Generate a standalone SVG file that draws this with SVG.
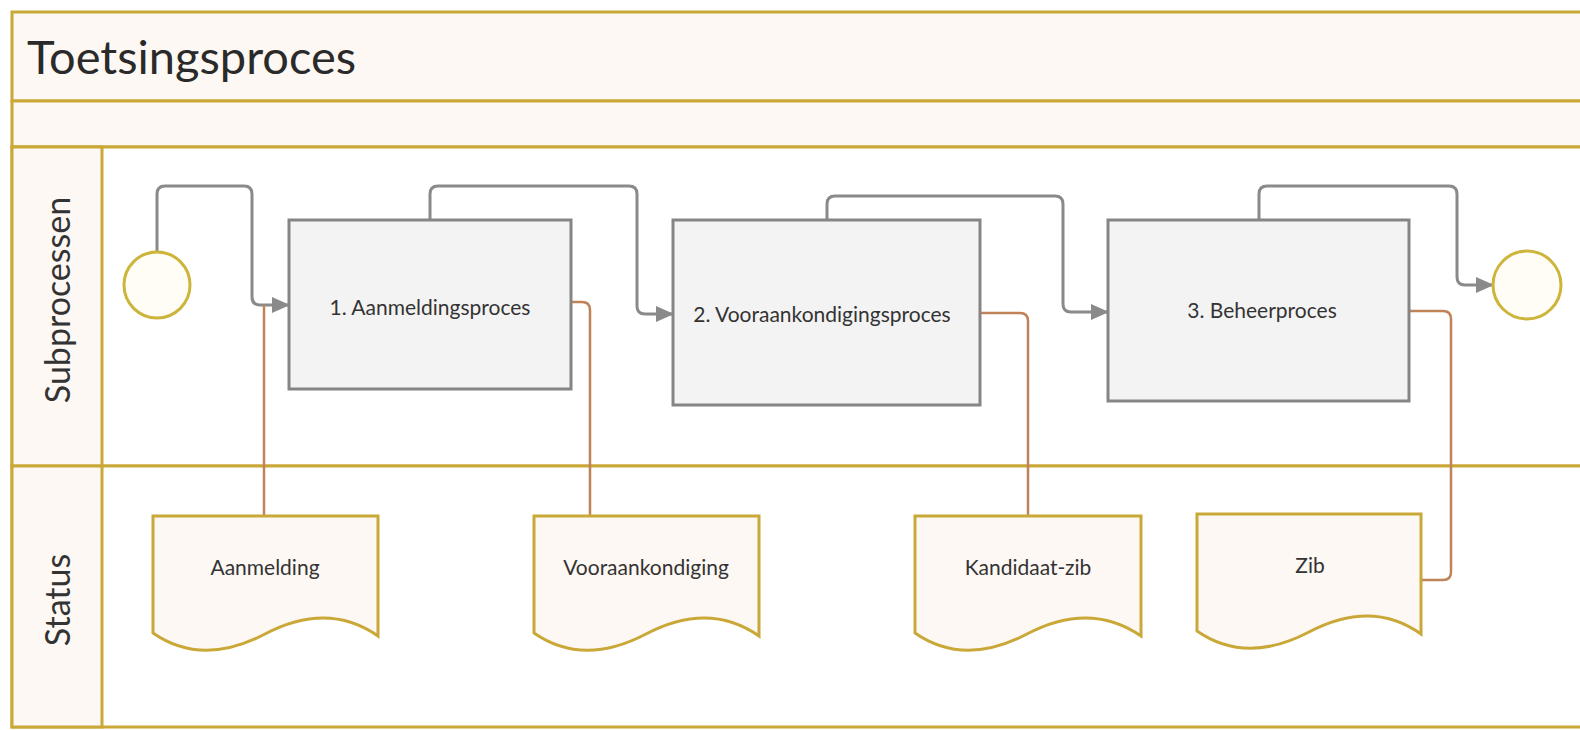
<svg xmlns="http://www.w3.org/2000/svg" width="1580" height="730" viewBox="0 0 1580 730">
<defs>
<style>
.frame{fill:none;stroke:#c9a52e;stroke-width:3}
.band{fill:#fdf8f3;stroke:#c9a838;stroke-width:3}
.lane{fill:#ffffff;stroke:#c9a838;stroke-width:3}
.hdr{fill:#fdf8f3;stroke:#c9a838;stroke-width:3}
.box{fill:#f3f3f3;stroke:#858585;stroke-width:3}
.ev{fill:#fffdf6;stroke:#cdb43a;stroke-width:3}
.doc{fill:#fdf8f3;stroke:#c9a838;stroke-width:3}
.flow{fill:none;stroke:#8a8a8a;stroke-width:3}
.assoc{fill:none;stroke:#c08358;stroke-width:2.5}
text{font-family:Lato,"Liberation Sans",sans-serif;fill:#333333}
.title{font-size:47px;fill:#2a2a2a}
.lbl{font-size:34px;fill:#333}
.t{font-size:21px;text-anchor:middle}
</style>
<marker id="arr" markerUnits="userSpaceOnUse" markerWidth="18" markerHeight="16" refX="17" refY="8" orient="auto">
<path d="M0 0 L18 8 L0 16 Z" fill="#8a8a8a"/>
</marker>
</defs>
<rect x="0" y="0" width="1580" height="730" fill="#ffffff"/>
<g id="pool">
<rect class="band" x="12" y="12" width="1600" height="89"/>
<text class="title" x="27" y="74">Toetsingsproces</text>
<rect class="band" x="12" y="101" width="1600" height="46"/>
<rect class="lane" x="12" y="147" width="1600" height="319"/>
<rect class="lane" x="12" y="466" width="1600" height="261"/>
<rect class="hdr" x="12" y="147" width="90" height="319"/>
<rect class="hdr" x="12" y="466" width="90" height="261"/>
<text class="lbl" text-anchor="middle" transform="translate(70,300) rotate(-90)">Subprocessen</text>
<text class="lbl" text-anchor="middle" transform="translate(70,600) rotate(-90)">Status</text>
</g>
<g id="connectors">
<path class="flow" marker-end="url(#arr)" d="M157 252 V194 Q157 186 165 186 H244 Q252 186 252 194 V297 Q252 305 260 305 H289"/>
<path class="flow" marker-end="url(#arr)" d="M430 220 V194 Q430 186 438 186 H629 Q637 186 637 194 V306 Q637 314 645 314 H673"/>
<path class="flow" marker-end="url(#arr)" d="M827 220 V204 Q827 196 835 196 H1055 Q1063 196 1063 204 V304 Q1063 312 1071 312 H1108"/>
<path class="flow" marker-end="url(#arr)" d="M1259 220 V194 Q1259 186 1267 186 H1449 Q1457 186 1457 194 V277 Q1457 285 1465 285 H1493"/>
<path class="assoc" d="M264 516 V305"/>
<path class="assoc" d="M571 302 H582 Q590 302 590 310 V516"/>
<path class="assoc" d="M980 313 H1020 Q1028 313 1028 321 V516"/>
<path class="assoc" d="M1409 311 H1443 Q1451 311 1451 319 V572 Q1451 580 1443 580 H1421"/>
</g>
<g id="start"><circle class="ev" cx="157" cy="285" r="33"/></g>
<g id="end"><circle class="ev" cx="1527" cy="285" r="34"/></g>
<g id="p1"><rect class="box" x="289" y="220" width="282" height="169"/><text class="t" x="430" y="315">1. Aanmeldingsproces</text></g>
<g id="p2"><rect class="box" x="673" y="220" width="307" height="185"/><text class="t" x="822" y="322">2. Vooraankondigingsproces</text></g>
<g id="p3"><rect class="box" x="1108" y="220" width="301" height="181"/><text class="t" x="1262" y="318">3. Beheerproces</text></g>
<g id="d1"><path class="doc" transform="translate(153,516)" d="M0 0 H225 V120 Q175 85 112 118 T0 117 Z"/><text class="t" x="265" y="575">Aanmelding</text></g>
<g id="d2"><path class="doc" transform="translate(534,516)" d="M0 0 H225 V120 Q175 85 112 118 T0 117 Z"/><text class="t" x="646" y="575">Vooraankondiging</text></g>
<g id="d3"><path class="doc" transform="translate(915,516)" d="M0 0 H226 V120 Q175 85 112 118 T0 117 Z"/><text class="t" x="1028" y="575">Kandidaat-zib</text></g>
<g id="d4"><path class="doc" transform="translate(1197,514)" d="M0 0 H224 V120 Q175 85 112 118 T0 117 Z"/><text class="t" x="1310" y="573">Zib</text></g>
</svg>
